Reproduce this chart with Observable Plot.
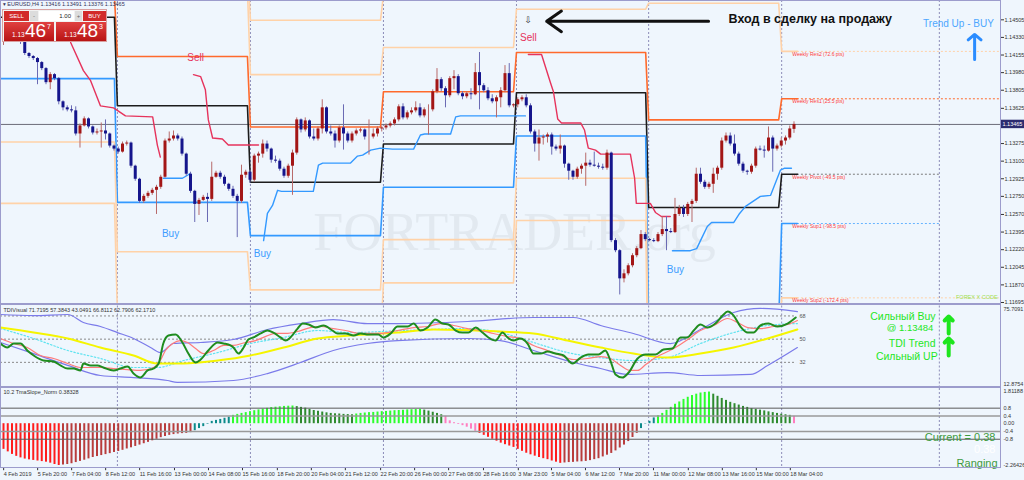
<!DOCTYPE html>
<html><head><meta charset="utf-8">
<script src="https://cdn.jsdelivr.net/npm/d3@7"></script>
<script src="https://cdn.jsdelivr.net/npm/@observablehq/plot@0.6"></script>
<style>
html,body{margin:0;padding:0;background:#eff6fd;}
#root{position:relative;width:1024px;height:480px;overflow:hidden;background:#eff6fd;font-family:"Liberation Sans","DejaVu Sans",Arial,sans-serif;}
#root svg{position:absolute;left:0;}
.ln{position:absolute;background:#9c9ccc;}
.abs{position:absolute;white-space:nowrap;}
</style></head><body><div id="root"></div>
<script>
const FONT = '"Liberation Sans","DejaVu Sans",Arial,sans-serif';
const X0 = -0.706, X1 = 234.59, XR = 240.24;

// ---------- candles (EURUSD H4) ----------
const opens = [1.1428,1.1432,1.1435,1.1437,1.1434,1.1430,1.1417,1.1414,1.1412,1.1408,
1.1402,1.1388,1.1396,1.1392,1.1369,1.1363,1.1361,1.1360,1.1337,1.1345,
1.1352,1.1344,1.1338,1.1339,1.1340,1.1337,1.1325,1.1322,1.1319,1.1327,
1.1328,1.1305,1.1292,1.1270,1.1275,1.1278,1.1281,1.1284,1.1294,1.1330,
1.1332,1.1335,1.1332,1.1317,1.1297,1.1280,1.1267,1.1271,1.1274,1.1272,
1.1294,1.1298,1.1294,1.1287,1.1282,1.1275,1.1270,1.1296,1.1299,1.1291,
1.1315,1.1317,1.1327,1.1322,1.1311,1.1310,1.1302,1.1295,1.1305,1.1318,
1.1351,1.1341,1.1350,1.1334,1.1332,1.1342,1.1363,1.1339,1.1337,1.1330,
1.1343,1.1337,1.1330,1.1337,1.1340,1.1341,1.1334,1.1334,1.1337,1.1342,
1.1343,1.1345,1.1347,1.1351,1.1364,1.1353,1.1358,1.1360,1.1363,1.1355,
1.1361,1.1361,1.1379,1.1391,1.1382,1.1375,1.1392,1.1394,1.1377,1.1374,
1.1377,1.1376,1.1398,1.1385,1.1380,1.1372,1.1369,1.1373,1.1380,1.1397,
1.1365,1.1366,1.1371,1.1373,1.1365,1.1339,1.1327,1.1333,1.1334,1.1336,
1.1324,1.1322,1.1325,1.1307,1.1300,1.1294,1.1302,1.1305,1.1308,1.1306,
1.1305,1.1304,1.1303,1.1318,1.1231,1.1221,1.1193,1.1198,1.1206,1.1216,
1.1223,1.1237,1.1232,1.1231,1.1230,1.1237,1.1242,1.1240,1.1239,1.1257,
1.1263,1.1257,1.1267,1.1270,1.1297,1.1289,1.1284,1.1287,1.1297,1.1303,
1.1330,1.1335,1.1327,1.1317,1.1307,1.1300,1.1299,1.1305,1.1322,1.1321,
1.1320,1.1333,1.1322,1.1325,1.1330,1.1333,1.13416];
const highs = [1.1437,1.1439,1.1440,1.1440,1.1436,1.1431,1.1418,1.1415,1.1413,1.1409,
1.1403,1.1398,1.1397,1.1393,1.1370,1.1365,1.1365,1.1364,1.1347,1.1354,
1.1353,1.1345,1.1342,1.1348,1.1351,1.1338,1.1326,1.1324,1.1329,1.1330,
1.1329,1.1306,1.1293,1.1277,1.1280,1.1283,1.1286,1.1296,1.1332,1.1339,
1.1340,1.1337,1.1334,1.1318,1.1299,1.1281,1.1273,1.1276,1.1278,1.1309,
1.1300,1.1300,1.1296,1.1288,1.1285,1.1277,1.1306,1.1301,1.1301,1.1317,
1.1319,1.1331,1.1330,1.1323,1.1315,1.1312,1.1304,1.1307,1.1321,1.1353,
1.1352,1.1353,1.1351,1.1342,1.1344,1.1371,1.1364,1.1345,1.1340,1.1345,
1.1366,1.1339,1.1339,1.1342,1.1343,1.1342,1.1351,1.1342,1.1344,1.1345,
1.1347,1.1349,1.1353,1.1366,1.1367,1.1360,1.1363,1.1369,1.1367,1.1363,
1.1366,1.1381,1.1402,1.1393,1.1384,1.1394,1.1400,1.1396,1.1379,1.1379,
1.1382,1.1407,1.1418,1.1387,1.1383,1.1376,1.1375,1.1383,1.1405,1.1407,
1.1367,1.1373,1.1375,1.1376,1.1367,1.1341,1.1341,1.1336,1.1338,1.1338,
1.1326,1.1336,1.1326,1.1308,1.1301,1.1304,1.1307,1.1318,1.1311,1.1319,
1.1308,1.1307,1.1321,1.1319,1.1233,1.1222,1.1202,1.1208,1.1218,1.1225,
1.1241,1.1239,1.1233,1.1233,1.1239,1.1255,1.1255,1.1243,1.1273,1.1266,
1.1266,1.1269,1.1272,1.1303,1.1303,1.1291,1.1289,1.1303,1.1305,1.1333,
1.1338,1.1338,1.1336,1.1319,1.1309,1.1301,1.1307,1.1324,1.1325,1.1325,
1.1344,1.1335,1.1327,1.1333,1.1335,1.1345,1.13491];
const lows = [1.1425,1.1430,1.1432,1.1431,1.1426,1.1415,1.1412,1.1410,1.1386,1.1400,
1.1386,1.1381,1.1390,1.1366,1.1360,1.1359,1.1358,1.1335,1.1323,1.1344,
1.1342,1.1336,1.1336,1.1323,1.1331,1.1323,1.1320,1.1317,1.1318,1.1325,
1.1303,1.1290,1.1268,1.1268,1.1273,1.1276,1.1257,1.1282,1.1293,1.1328,
1.1330,1.1330,1.1315,1.1295,1.1278,1.1249,1.1256,1.1270,1.1249,1.1270,
1.1293,1.1292,1.1285,1.1280,1.1273,1.1234,1.1268,1.1293,1.1288,1.1289,
1.1308,1.1313,1.1319,1.1308,1.1308,1.1300,1.1293,1.1293,1.1276,1.1316,
1.1338,1.1339,1.1332,1.1330,1.1330,1.1337,1.1337,1.1335,1.1323,1.1328,
1.1321,1.1328,1.1328,1.1335,1.1338,1.1331,1.1316,1.1332,1.1334,1.1339,
1.1341,1.1343,1.1345,1.1349,1.1351,1.1351,1.1356,1.1358,1.1353,1.1353,
1.1336,1.1359,1.1377,1.1379,1.1363,1.1373,1.1381,1.1375,1.1371,1.1372,
1.1371,1.1375,1.1361,1.1378,1.1370,1.1367,1.1353,1.1363,1.1378,1.1363,
1.1363,1.1363,1.1369,1.1363,1.1337,1.1319,1.1310,1.1326,1.1328,1.1316,
1.1320,1.1317,1.1303,1.1291,1.1291,1.1292,1.1297,1.1285,1.1304,1.1304,
1.1302,1.1301,1.1301,1.1229,1.1219,1.1177,1.1189,1.1196,1.1204,1.1214,
1.1222,1.1230,1.1230,1.1229,1.1229,1.1235,1.1221,1.1238,1.1238,1.1255,
1.1254,1.1255,1.1249,1.1268,1.1287,1.1282,1.1282,1.1278,1.1291,1.1301,
1.1328,1.1325,1.1315,1.1305,1.1298,1.1296,1.1297,1.1303,1.1320,1.1313,
1.1319,1.1299,1.1320,1.1323,1.1326,1.1331,1.13376];
const closes = [1.1432,1.1435,1.1437,1.1434,1.1430,1.1417,1.1414,1.1412,1.1408,1.1402,
1.1388,1.1396,1.1392,1.1369,1.1363,1.1361,1.1360,1.1337,1.1345,1.1352,
1.1344,1.1338,1.1339,1.1340,1.1337,1.1325,1.1322,1.1319,1.1327,1.1328,
1.1305,1.1292,1.1270,1.1275,1.1278,1.1281,1.1284,1.1294,1.1330,1.1332,
1.1335,1.1332,1.1317,1.1297,1.1280,1.1267,1.1271,1.1274,1.1272,1.1294,
1.1298,1.1294,1.1287,1.1282,1.1275,1.1270,1.1296,1.1299,1.1291,1.1315,
1.1317,1.1327,1.1322,1.1311,1.1310,1.1302,1.1295,1.1305,1.1318,1.1351,
1.1341,1.1350,1.1334,1.1332,1.1342,1.1363,1.1339,1.1337,1.1330,1.1343,
1.1337,1.1330,1.1337,1.1340,1.1341,1.1334,1.1334,1.1337,1.1342,1.1343,
1.1345,1.1347,1.1351,1.1364,1.1353,1.1358,1.1360,1.1363,1.1355,1.1361,
1.1361,1.1379,1.1391,1.1382,1.1375,1.1392,1.1394,1.1377,1.1374,1.1377,
1.1376,1.1398,1.1385,1.1380,1.1372,1.1369,1.1373,1.1380,1.1397,1.1365,
1.1366,1.1371,1.1373,1.1365,1.1339,1.1327,1.1333,1.1334,1.1336,1.1324,
1.1322,1.1325,1.1307,1.1300,1.1294,1.1302,1.1305,1.1308,1.1306,1.1305,
1.1304,1.1303,1.1318,1.1231,1.1221,1.1193,1.1198,1.1206,1.1216,1.1223,
1.1237,1.1232,1.1231,1.1230,1.1237,1.1242,1.1240,1.1239,1.1257,1.1263,
1.1257,1.1267,1.1270,1.1297,1.1289,1.1284,1.1287,1.1297,1.1303,1.1330,
1.1335,1.1327,1.1317,1.1307,1.1300,1.1299,1.1305,1.1322,1.1321,1.1320,
1.1333,1.1322,1.1325,1.1330,1.1333,1.1342,1.13465];
const lastPrice = 1.13465;

// ---------- price axis ----------
const priceTicks = [1.14505,1.14330,1.14155,1.13980,1.13805,1.13625,1.13275,1.13100,1.12925,1.12750,1.12570,1.12395,1.12220,1.12045,1.11870,1.11695];

// ---------- weekly separators and weekly pivots ----------
const weekSeparators = [26.8,58.1,89.4,120.7,151.8,183.1,220.2];
const weekStart = [-0.7,26.8,58.1,89.4,120.7,151.8,183.1];
const weekEnd = [26.1,57.4,88.7,120.0,151.1,182.4,186.8];
const pivotR3 = [1.1520,1.1510,1.1450,1.1475,1.1500,1.1560,1.1480];
const pivotR2 = [1.1500,1.1480,1.1396,1.1423,1.1461,1.1467,1.14191];
const pivotR1 = [1.1475,1.1414,1.1344,1.1379,1.1418,1.1351,1.13720];
const pivotPP = [1.1453,1.1365,1.1289,1.1327,1.1378,1.1264,1.12970];
const pivotS1 = [1.1392,1.1269,1.1236,1.1284,1.1335,1.1150,1.12480];
const pivotS2 = [1.1329,1.1220,1.1182,1.1232,1.1293,1.1100,1.11741];
const pivotS3 = [1.1268,1.1160,1.1130,1.1189,1.1251,1.1050,1.1120];
const weeklyLabels = ["Weekly Res2 (72.6 pts)","Weekly Res1 (25.5 pts)","Weekly Pivot (-49.5 pts)","Weekly Sup1 (-98.5 pts)","Weekly Sup2 (-172.4 pts)"];

// ---------- signal lines [bar, price] ----------
const sellLineA = [[15.8,1.1428],[18.8,1.1400],[20.5,1.1390],[22.8,1.1365],[25.9,1.1363],[28.7,1.1355],[35.1,1.1354],[36.2,1.1326],[36.9,1.1314]];
const sellLineB = [[44.7,1.1396],[46.4,1.1394],[47.5,1.1381],[48.2,1.1351],[49.2,1.1333],[51.5,1.1332],[52.9,1.1326],[60.0,1.1326]];
const sellLineC = [[123.5,1.1416],[126.6,1.1416],[128.7,1.1388],[129.4,1.1379],[130.4,1.1352],[131.3,1.1348],[135.8,1.1348],[136.7,1.1341],[137.6,1.1323],[139.3,1.1321],[140.5,1.1317],[147.5,1.1317],[148.5,1.1293],[148.9,1.1268],[152.2,1.1268],[153.4,1.1259],[154.8,1.1255],[156.9,1.1255]];
const buyLineA = [[37.6,1.1293],[42.1,1.1293],[43.3,1.1296],[44.0,1.1298]];
const buyLineB = [[61.2,1.1231],[62.1,1.1258],[63.3,1.1266],[64.5,1.1281],[65.4,1.1280],[72.9,1.1280],[74.1,1.1306],[75.1,1.1308],[81.6,1.1308],[83.3,1.1315],[84.5,1.1316],[86.4,1.1321],[88.7,1.1323],[91.5,1.1322],[96.5,1.1322],[98.1,1.1336],[99.1,1.1337],[105.2,1.1337],[106.4,1.1354],[107.5,1.1355],[120.0,1.1355],[122.8,1.1355]];
const buyLineC = [[157.4,1.1221],[161.6,1.1221],[163.1,1.1223],[164.0,1.1231],[165.6,1.1245],[166.6,1.1249],[171.8,1.1249],[173.2,1.1258],[174.6,1.1265],[178.1,1.1275],[180.5,1.1276],[182.8,1.1301],[183.8,1.1303],[185.4,1.1303]];
const sellMarks = [[45.2,1.1413],[123.5,1.1433]];
const buyMarks = [[39.3,1.1238],[60.9,1.1218],[158.1,1.1202]];

// ---------- TDI [bar, value] ----------
const tdiGreen = [[-0.7,46.6],[0.9,43.5],[2.4,46.6],[4,46.6],[5.6,41.2],[7.1,37.3],[9.4,33.4],[11.8,32.6],[13.4,29.6],[15.1,27.2],[16.5,27.2],[18.1,25.7],[18.8,31.1],[20.5,29.6],[22.1,29.6],[23.5,28.0],[25.9,25.7],[27.5,27.2],[29.2,28.8],[30.6,23.3],[32.2,20.2],[33.9,25.7],[35.3,27.2],[36.5,31.1],[37.6,46.6],[38.8,52.8],[40.5,53.6],[42.1,47.4],[43.5,38.8],[45.2,31.9],[46.4,34.2],[48.2,41.2],[50.4,47.4],[51.8,46.6],[53.4,45.1],[54.1,43.5],[55.3,38.8],[56.5,43.5],[57.6,49.7],[58.8,51.3],[60.5,54.4],[62.1,56.7],[63.5,55.1],[65.2,51.3],[66.4,48.9],[67.5,51.3],[69.2,58.2],[70.4,62.1],[71.8,61.4],[73.4,59.0],[75.3,60.6],[77.4,56.7],[78.6,54.4],[80.5,54.4],[82.4,52.8],[84,54.4],[85.9,53.6],[88.2,53.6],[89.4,51.3],[91.1,54.4],[92.7,59.8],[95.1,59.8],[96.5,62.1],[98.1,56.7],[99.8,59.0],[101.6,65.2],[103.3,62.1],[104.7,61.4],[106.4,56.7],[108,55.1],[109.4,55.1],[111.1,59.0],[112.7,55.1],[114.1,51.3],[115.8,48.9],[117.4,55.1],[118.6,51.3],[120,48.9],[121.6,50.5],[123.3,46.6],[124.7,38.8],[126.4,38.8],[128,40.4],[129.9,38.8],[131.8,37.3],[133.9,31.1],[135.8,35.7],[137.6,38.1],[140,38.1],[141.6,41.2],[142.8,33.4],[144,22.6],[145.6,20.2],[147.1,24.1],[149.2,35.0],[151.1,38.1],[153.4,38.1],[155.3,41.9],[157.4,42.7],[159.3,51.3],[160.9,51.3],[162.4,56.7],[164,61.4],[165.6,59.0],[167.5,62.1],[169.2,68.3],[170.4,71.4],[171.8,68.3],[173.4,59.8],[175.1,55.1],[176.5,55.1],[178.1,60.6],[180,62.1],[182.1,59.8],[184.5,62.1],[186.4,66.8]];
const tdiRed = [[-0.7,50.5],[2.4,46.6],[5.6,43.5],[8.7,37.3],[11.8,35.0],[15.1,31.1],[18.1,28.0],[22.8,28.0],[25.9,27.2],[29.2,26.4],[32.2,25.7],[35.3,28.0],[36.9,33.4],[38.1,41.2],[39.8,46.6],[41.6,48.9],[43.3,47.4],[45.2,42.7],[47.1,38.8],[49.4,41.2],[51.8,45.1],[54.1,45.1],[56.9,47.4],[59.3,48.9],[61.6,52.0],[64,54.4],[66.4,54.4],[69.2,55.9],[72.2,59.0],[74.6,59.8],[77.6,58.2],[80.5,56.7],[84,54.4],[88.7,54.4],[92.7,56.7],[96.5,59.0],[99.8,59.8],[102.8,62.1],[105.9,60.6],[109.2,58.2],[112.2,56.7],[115.3,54.4],[118.6,52.0],[121.6,50.5],[124.7,45.1],[128,41.2],[131.1,37.3],[134.1,34.2],[137.4,35.0],[140.5,36.5],[142.8,35.0],[145.2,29.6],[147.5,25.7],[149.2,25.7],[151.1,30.3],[153.4,35.7],[155.8,39.6],[158.1,43.5],[161,49.7],[164,56.7],[167.1,60.6],[170.4,66.0],[172.7,62.9],[175.1,59.0],[178.1,58.2],[181.2,59.8],[184.5,61.4],[186.8,64.5]];
const tdiYellow = [[-0.7,59.0],[7.1,55.1],[15.1,50.5],[22.8,43.5],[30.6,37.3],[36.2,31.1],[42.4,31.1],[50.4,33.4],[58.1,37.3],[65.9,43.5],[73.9,50.5],[81.6,52.8],[92.7,55.1],[101.2,57.5],[116.9,55.9],[124.7,54.4],[132.7,48.9],[140.5,43.5],[148.2,38.8],[156.2,35.7],[164,38.8],[171.8,43.5],[179.8,50.5],[186.8,57.5]];
const tdiUpper = [[-0.7,69.1],[7.1,68.3],[15.1,69.1],[18.8,62.9],[22.8,59.8],[26.8,55.1],[30.6,50.5],[34.6,43.5],[36.9,39.6],[40,46.6],[46.4,47.4],[54.1,49.7],[62.1,57.5],[69.9,62.1],[77.6,65.2],[85.6,62.1],[92.7,62.1],[109.2,63.7],[124.7,66.8],[134.1,66.8],[140.5,60.6],[148.2,54.4],[156.9,46.6],[164,57.5],[171.8,70.7],[178.1,73.8],[186.8,71.4]];
const tdiLower = [[-0.7,47.4],[7.1,38.8],[15.1,29.6],[22.8,21.8],[30.6,20.2],[38.6,17.9],[40.9,16.4],[54.1,17.9],[62.1,23.3],[69.9,31.9],[77.6,41.2],[85.6,46.6],[92.7,48.9],[109.2,50.5],[116.9,48.9],[124.7,41.2],[134.1,31.9],[140.5,27.2],[146.8,22.6],[156.2,24.1],[164,21.8],[175.8,22.6],[179.8,29.6],[186.8,43.5]];
const tdiMid = [[-0.7,58.2],[7.1,50.5],[15.1,41.2],[22.8,35.0],[30.6,28.0],[36.2,28.0],[42.4,33.4],[50.4,39.6],[58.1,46.6],[65.9,51.3],[73.9,56.7],[81.6,55.1],[93,56.5],[109.2,58.2],[116.9,55.1],[124.7,47.4],[132.7,39.6],[142.1,35.0],[148.2,33.4],[156.2,35.7],[164,46.6],[171.8,55.1],[179.8,60.6],[186.8,62.1]];
const tdiLevels = [68, 50, 32];

// ---------- TmaSlope_Norm histogram (one value per bar) ----------
const tmaSlope = [-1.32,-1.45,-1.58,-1.68,-1.76,-1.82,-1.86,-1.89,-1.92,-1.95,
-1.98,-2.03,-2.10,-2.15,-2.13,-2.10,-2.06,-2.00,-1.94,-1.88,
-1.81,-1.74,-1.69,-1.64,-1.59,-1.54,-1.48,-1.43,-1.37,-1.30,
-1.24,-1.17,-1.10,-1.03,-0.96,-0.88,-0.80,-0.72,-0.66,-0.60,
-0.56,-0.53,-0.51,-0.50,-0.46,-0.36,-0.25,-0.15,-0.03,0.12,
0.17,0.22,0.28,0.34,0.43,0.48,0.53,0.57,0.62,0.67,
0.71,0.75,0.79,0.83,0.85,0.87,0.89,0.90,0.91,0.88,
0.84,0.80,0.74,0.68,0.64,0.60,0.56,0.53,0.51,0.50,
0.48,0.47,0.46,0.50,0.53,0.55,0.57,0.58,0.60,0.62,
0.63,0.65,0.67,0.68,0.69,0.71,0.72,0.73,0.74,0.70,
0.65,0.59,0.53,0.46,0.38,0.15,0.05,-0.04,-0.10,-0.18,
-0.28,-0.39,-0.50,-0.60,-0.70,-0.80,-0.90,-1.00,-1.08,-1.15,
-1.22,-1.32,-1.42,-1.52,-1.60,-1.67,-1.74,-1.80,-1.85,-1.92,
-1.98,-2.04,-2.02,-2.00,-1.99,-1.97,-1.96,-1.94,-1.90,-1.85,
-1.80,-1.71,-1.62,-1.53,-1.40,-1.25,-1.10,-0.92,-0.71,-0.50,
-0.25,-0.02,0.12,0.30,0.41,0.53,0.69,0.84,1.00,1.12,
1.25,1.36,1.45,1.52,1.58,1.61,1.63,1.52,1.41,1.30,
1.20,1.10,1.03,0.96,0.89,0.84,0.78,0.74,0.70,0.66,
0.61,0.57,0.53,0.49,0.46,0.43,0.38];
const tmaLevels = [0.8, 0.4, -0.4, -0.8];
const tmaTicks = [0.8, 0.4, 0, -0.4, -0.8];
const tmaTickLabels = ["0.8","0.4","0.00","-0.4","-0.8"];

// ---------- time axis ----------
const timeTickBars = [-0.2,7.8,15.8,23.8,31.8,40.0,48.0,56.0,64.2,72.2,80.2,88.5,96.5,104.5,112.7,120.9,128.7,136.7,144.7,152.7,160.9,168.9,176.9,184.9];
const timeLabels = ["4 Feb 2019","5 Feb 20:00","7 Feb 04:00","8 Feb 12:00","11 Feb 16:00","13 Feb 00:00","14 Feb 08:00","15 Feb 16:00","18 Feb 20:00","20 Feb 04:00","21 Feb 12:00","22 Feb 20:00","26 Feb 00:00","27 Feb 08:00","28 Feb 16:00","3 Mar 23:00","5 Mar 04:00","6 Mar 12:00","7 Mar 20:00","11 Mar 00:00","12 Mar 08:00","13 Mar 16:00","15 Mar 00:00","18 Mar 04:00"];

// ================= build =================
const root = document.getElementById("root");
const idx = d3.range(closes.length);
const BULL = "#a31616", BEAR = "#15158c", BULLW = "#b86a6a", BEARW = "#6a6ab4";
const isBull = i => closes[i] >= opens[i];

const PEACH = "#ffd2a8", ORANGE = "#ff6a2c", PPC = "#1c1c1c", S1C = "#3399ff";
const levelDefs = [["R3",pivotR3,PEACH],["R2",pivotR2,PEACH],["R1",pivotR1,ORANGE],["PP",pivotPP,PPC],["S1",pivotS1,S1C],["S2",pivotS2,PEACH],["S3",pivotS3,PEACH]];
const pivotRows = [];
for (const [name, vals, color] of levelDefs) {
  vals.forEach((v, w) => {
    pivotRows.push({level: name, bx: weekStart[w], py: v, color});
    pivotRows.push({level: name, bx: weekEnd[w], py: v, color});
  });
}
const w7 = 6;
const extRows = [
  {py: pivotR2[w7], x2: X1, color: PEACH, label: weeklyLabels[0]},
  {py: pivotR1[w7], x2: X1, color: ORANGE, label: weeklyLabels[1]},
  {py: pivotPP[w7], x2: weekSeparators[6], color: "#7a7a7a", label: weeklyLabels[2]},
  {py: pivotS1[w7], x2: weekSeparators[6], color: "#66b3ff", label: weeklyLabels[3]},
  {py: pivotS2[w7], x2: X1, color: PEACH, label: weeklyLabels[4]}
];

const baseStyle = {background: "transparent", fontFamily: FONT, overflow: "visible"};

const main = Plot.plot({
  width: 1024, height: 304, marginLeft: 0, marginRight: 24, marginTop: 0, marginBottom: 0,
  x: {domain: [X0, X1], axis: null, label: null},
  y: {domain: [1.11675, 1.14697], axis: null, label: null},
  color: {type: "identity"},
  style: baseStyle,
  marks: [
    Plot.text(["FORTRADER.org"], {x: 72.9, y: 1.1222, text: d => d, textAnchor: "start", lineAnchor: "bottom", fontSize: 54, fontFamily: "Liberation Serif", fill: "#e2e9f0"}),
    Plot.ruleX(weekSeparators, {stroke: "#8c8cb8", strokeDasharray: "2,2"}),
    Plot.ruleY([lastPrice], {stroke: "#6b6b78", strokeWidth: 1}),
    Plot.ruleY(extRows, {y: "py", x1: weekEnd[6], x2: "x2", stroke: "color", strokeDasharray: "2,2"}),
    Plot.line(pivotRows, {x: "bx", y: "py", z: "level", stroke: "color", strokeWidth: 1.6, clip: true}),
    ...[sellLineA, sellLineB, sellLineC].map(s => Plot.line(s, {x: d => d[0], y: d => d[1], stroke: "#e6335c", strokeWidth: 1.4, clip: true})),
    ...[buyLineA, buyLineB, buyLineC].map(s => Plot.line(s, {x: d => d[0], y: d => d[1], stroke: "#3399ff", strokeWidth: 1.4, clip: true})),
    Plot.ruleX(idx, {x: i => i, y1: i => lows[i], y2: i => highs[i], stroke: i => isBull(i) ? BULLW : BEARW, strokeWidth: 1}),
    Plot.ruleX(idx, {x: i => i, y1: i => opens[i], y2: i => closes[i], stroke: i => isBull(i) ? BULL : BEAR, strokeWidth: 3}),
    Plot.text(sellMarks, {x: d => d[0], y: d => d[1], text: () => "Sell", fill: "#e6335c", fontSize: 10}),
    Plot.text(buyMarks, {x: d => d[0], y: d => d[1], text: () => "Buy", fill: "#3c9cff", fontSize: 10}),
    Plot.text(extRows, {x: 185.6, y: "py", text: "label", dy: 3, textAnchor: "start", fontSize: 5, fill: "#ff3b3b"}),
    Plot.text(["FOREX X CODE"], {x: 233.9, y: 1.1175, text: d => d, textAnchor: "end", fontSize: 5.5, fill: "#a0e050"}),
    Plot.arrow([0], {x1: 165.9, y1: 1.1449, x2: 127.8, y2: 1.1449, stroke: "#111", strokeWidth: 3, headLength: 9, headAngle: 70}),
    Plot.text(["Вход в сделку на продажу"], {x: 170.6, y: 1.1451, text: d => d, textAnchor: "start", fontSize: 12.5, fontWeight: "bold", fill: "#111"}),
    Plot.text(["⇩"], {x: 123.5, y: 1.1450, text: d => d, fontSize: 9, fontFamily: "DejaVu Sans", fill: "#333"}),
    Plot.text(["Trend Up - BUY"], {x: 224.7, y: 1.1447, text: d => d, fontSize: 10, fill: "#4da6ff"}),
    Plot.arrow([0], {x1: 228.5, y1: 1.1411, x2: 228.5, y2: 1.1436, stroke: "#2a8cff", strokeWidth: 3, headLength: 11, headAngle: 100}),
    Plot.axisY({anchor: "right", label: null, ticks: priceTicks, tickFormat: d3.format(".5f"), tickSize: 3, tickPadding: 1, fontSize: 5.5, color: "#333"}),
    Plot.rect([lastPrice], {x1: X1, x2: XR, y1: d => d - 0.00042, y2: d => d + 0.00042, fill: "#2c2c70"}),
    Plot.text([lastPrice], {x: X1, y: d => d, text: d => d.toFixed(5), dx: 2, textAnchor: "start", fontSize: 5.5, fill: "#ffffff"})
  ]
});
main.style.top = "0px";
root.appendChild(main);

const tdi = Plot.plot({
  width: 1024, height: 83, marginLeft: 0, marginRight: 24, marginTop: 1.5, marginBottom: 0.5,
  x: {domain: [X0, X1], axis: null, label: null},
  y: {domain: [12.8754, 75.7091], axis: null, label: null},
  style: baseStyle,
  marks: [
    Plot.ruleX(weekSeparators, {stroke: "#8c8cb8", strokeDasharray: "2,2"}),
    Plot.ruleY(tdiLevels, {x1: X0, x2: 186.6, stroke: "#8a8a8a", strokeDasharray: "2,2"}),
    Plot.text(tdiLevels, {x: 187.3, y: d => d, text: d => String(d), textAnchor: "start", fontSize: 5.5, fill: "#555"}),
    Plot.line(tdiUpper, {x: d => d[0], y: d => d[1], stroke: "#7b7bea", strokeWidth: 1.2, curve: "monotone-x"}),
    Plot.line(tdiLower, {x: d => d[0], y: d => d[1], stroke: "#7b7bea", strokeWidth: 1.2, curve: "monotone-x"}),
    Plot.line(tdiMid, {x: d => d[0], y: d => d[1], stroke: "#5fe3f0", strokeWidth: 1.2, strokeDasharray: "1.5,2", curve: "monotone-x"}),
    Plot.line(tdiYellow, {x: d => d[0], y: d => d[1], stroke: "#f5f500", strokeWidth: 2, curve: "monotone-x"}),
    Plot.line(tdiRed, {x: d => d[0], y: d => d[1], stroke: "#ff7b7b", strokeWidth: 1.2, curve: "monotone-x"}),
    Plot.line(tdiGreen, {x: d => d[0], y: d => d[1], stroke: "#1f8c1f", strokeWidth: 2, curve: "monotone-x"}),
    Plot.text(["TDIVisual 71.7195 57.3843 43.0491 66.8112 62.7906 62.1710"], {frameAnchor: "top-left", text: d => d, dx: 3, dy: 2, textAnchor: "start", lineAnchor: "top", fontSize: 5.5, fill: "#333"}),
    Plot.text(["Сильный Buy"], {x: 219.3, y: 67.6, text: d => d, textAnchor: "end", fontSize: 10.5, fill: "#1ee61e"}),
    Plot.text(["@ 1.13484"], {x: 218.8, y: 58.3, text: d => d, textAnchor: "end", fontSize: 9.5, fill: "#1ee61e"}),
    Plot.text(["TDI Trend"], {x: 219.3, y: 46.6, text: d => d, textAnchor: "end", fontSize: 10.5, fill: "#1ee61e"}),
    Plot.text(["Сильный UP"], {x: 219.8, y: 36.5, text: d => d, textAnchor: "end", fontSize: 10.5, fill: "#1ee61e"}),
    Plot.arrow([0], {x1: 222.4, y1: 54.4, x2: 222.4, y2: 67.6, stroke: "#1ee61e", strokeWidth: 4, headLength: 8, headAngle: 90}),
    Plot.arrow([0], {x1: 222.4, y1: 37.3, x2: 222.4, y2: 50.5, stroke: "#1ee61e", strokeWidth: 4, headLength: 8, headAngle: 90}),
    Plot.text(["75.7091"], {frameAnchor: "top-right", text: d => d, dx: 3, dy: 1, textAnchor: "start", lineAnchor: "top", fontSize: 5.5, fill: "#333"}),
    Plot.text(["12.8754"], {frameAnchor: "bottom-right", text: d => d, dx: 3, dy: -1, textAnchor: "start", lineAnchor: "bottom", fontSize: 5.5, fill: "#333"})
  ]
});
tdi.style.top = "304px";
root.appendChild(tdi);

function tmaColor(i) {
  const v = tmaSlope[i], d = i > 0 ? v - tmaSlope[i - 1] : -1;
  if (Math.abs(v) < 0.4) return d >= 0 ? "#0b8a8a" : "#ff7ec0";
  if (v > 0) return d >= 0 ? "#2cff2c" : "#2e8b2e";
  return d < 0 ? "#ff1c1c" : "#b83c3c";
}
const timeLabelMap = new Map(timeTickBars.map((b, k) => [b, timeLabels[k]]));
const tmaLabelMap = new Map(tmaTicks.map((t, k) => [t, tmaTickLabels[k]]));

const tma = Plot.plot({
  width: 1024, height: 93, marginLeft: 0, marginRight: 24, marginTop: 1, marginBottom: 12.8,
  x: {domain: [X0, X1], axis: null, label: null},
  y: {domain: [-2.26426, 1.81188], axis: null, label: null},
  color: {type: "identity"},
  style: baseStyle,
  marks: [
    Plot.ruleX(weekSeparators, {stroke: "#8c8cb8", strokeDasharray: "2,2"}),
    Plot.ruleX(idx, {x: i => i, y1: 0, y2: i => tmaSlope[i], stroke: i => tmaColor(i), strokeWidth: 2}),
    Plot.ruleY(tmaLevels, {stroke: d => Math.abs(d) > 0.5 ? "#5a5a5a" : "#9a9a9a", strokeWidth: d => Math.abs(d) > 0.5 ? 1 : 1.6}),
    Plot.text(["10.2 TmaSlope_Norm 0.38328"], {frameAnchor: "top-left", text: d => d, dx: 3, dy: 2, textAnchor: "start", lineAnchor: "top", fontSize: 5.5, fill: "#333"}),
    Plot.text(["Current = 0.38"], {x: 233.4, y: -0.71, text: d => d, textAnchor: "end", fontSize: 11, fill: "#3e9b3e"}),
    Plot.text(["0.38"], {x: 233.4, y: -1.32, text: d => d, textAnchor: "end", fontSize: 11, fill: "#ffffff"}),
    Plot.text(["Ranging"], {x: 233.9, y: -2.05, text: d => d, textAnchor: "end", fontSize: 11, fill: "#3e9b3e"}),
    Plot.text(tmaTicks, {x: X1, y: d => d, text: d => tmaLabelMap.get(d), dx: 3, textAnchor: "start", fontSize: 5.5, fill: "#333"}),
    Plot.text(["1.81188"], {frameAnchor: "top-right", text: d => d, dx: 3, dy: 1, textAnchor: "start", lineAnchor: "top", fontSize: 5.5, fill: "#333"}),
    Plot.text(["-2.26426"], {frameAnchor: "bottom-right", text: d => d, dx: 3, dy: -1, textAnchor: "start", lineAnchor: "bottom", fontSize: 5.5, fill: "#333"}),
    Plot.axisX({ticks: timeTickBars, label: null, tickFormat: d => timeLabelMap.get(d), anchor: "bottom", tickSize: 3, tickPadding: 1, textAnchor: "start", dx: 1, fontSize: 5.5, color: "#333"})
  ]
});
tma.style.top = "387px";
root.appendChild(tma);

// ---------- frame lines ----------
function line(l, t, w, h, c) {
  const d = document.createElement("div");
  d.className = "ln";
  d.style.cssText = `left:${l}px;top:${t}px;width:${w}px;height:${h}px;` + (c ? `background:${c};` : "");
  root.appendChild(d);
}
line(0, 0, 1001, 1);
line(0, 0, 1, 468);
line(1000, 0, 1, 468);
line(0, 303, 1001, 2);
line(0, 386, 1001, 2);
line(0, 467, 1001, 1);

// ---------- header + one-click trading panel ----------
const hdr = document.createElement("div");
hdr.className = "abs";
hdr.style.cssText = "left:3px;top:1px;font-size:5.5px;color:#33335a;";
hdr.textContent = "▾ EURUSD,H4  1.13416 1.13491 1.13376 1.13465";
root.appendChild(hdr);

const oct = document.createElement("div");
oct.className = "abs";
oct.style.cssText = "left:2px;top:9px;width:105px;height:33px;background:#f2f2f2;border:1px solid #d9a0a0;box-sizing:border-box;color:#fff;";
oct.innerHTML = `
<div class="abs" style="left:1px;top:1px;width:25px;height:10px;background:#d22a2a;font-size:6px;line-height:10px;text-align:center;">SELL</div>
<div class="abs" style="left:27px;top:1px;width:8px;height:10px;background:#dcdcdc;color:#666;font-size:6px;line-height:10px;text-align:center;">-</div>
<div class="abs" style="left:36px;top:1px;width:35px;height:10px;background:#fff;color:#222;font-size:6px;line-height:10px;text-align:right;padding-right:3px;box-sizing:border-box;">1.00</div>
<div class="abs" style="left:72px;top:1px;width:7px;height:10px;background:#dcdcdc;color:#666;font-size:6px;line-height:10px;text-align:center;">+</div>
<div class="abs" style="left:80px;top:1px;width:23px;height:10px;background:#d22a2a;font-size:6px;line-height:10px;text-align:center;">BUY</div>
<div class="abs" style="left:1px;top:12px;width:50px;height:19px;background:linear-gradient(#e04040,#b81414);"></div>
<div class="abs" style="left:53px;top:12px;width:50px;height:19px;background:linear-gradient(#e04040,#b81414);"></div>
<div class="abs" style="left:9px;top:21px;font-size:6.5px;">1.13</div>
<div class="abs" style="left:22px;top:10px;font-size:19px;line-height:22px;">46</div>
<div class="abs" style="left:44px;top:13px;font-size:7px;">7</div>
<div class="abs" style="left:61px;top:21px;font-size:6.5px;">1.13</div>
<div class="abs" style="left:74px;top:10px;font-size:19px;line-height:22px;">48</div>
<div class="abs" style="left:96px;top:13px;font-size:7px;">3</div>`;
root.appendChild(oct);
</script></body></html>
